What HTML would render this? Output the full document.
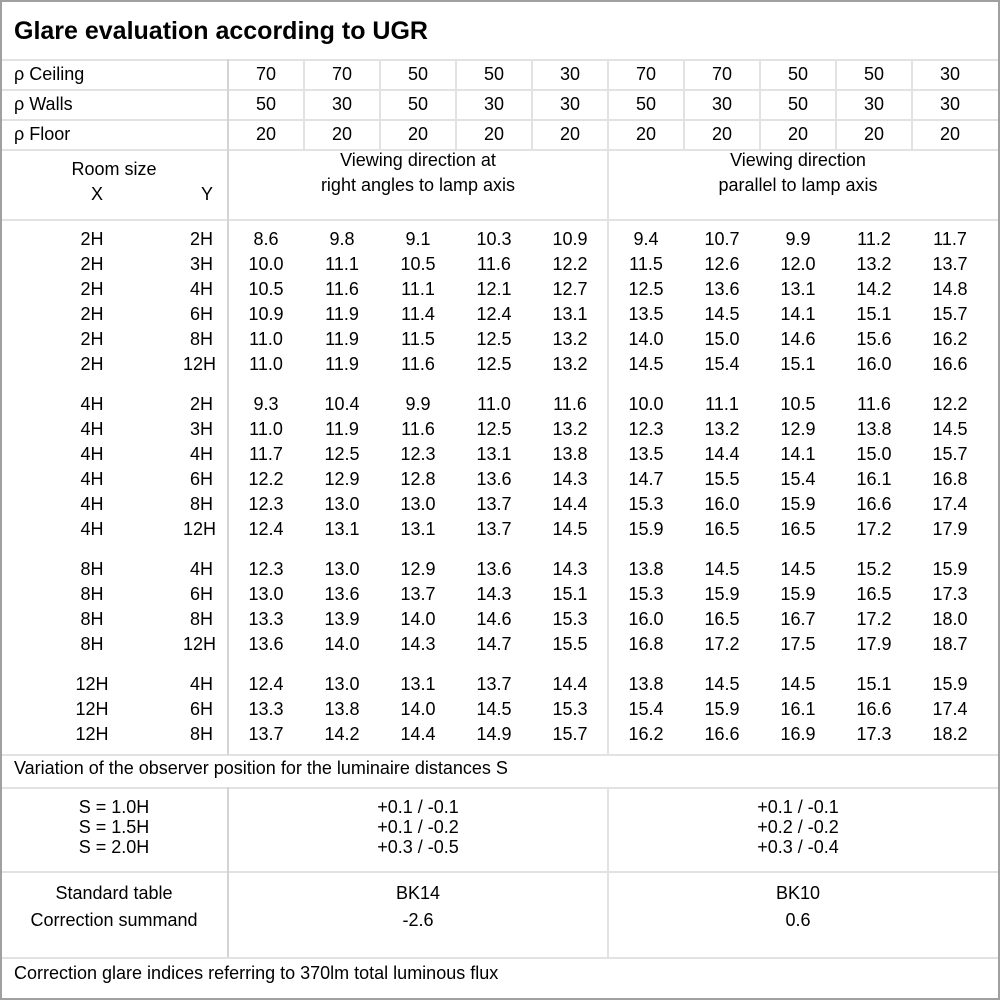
<!DOCTYPE html>
<html><head><meta charset="utf-8"><style>
body{margin:0;width:1000px;height:1000px;background:#fff;position:relative;overflow:hidden;font-family:"Liberation Sans","DejaVu Sans",sans-serif;font-size:18px;color:#000}
.b{position:absolute;left:0;top:0;width:996px;height:996px;border:2px solid #a0a0a0}
.h{position:absolute;left:2px;width:996px;height:2px;background:#e2e2e2}
.v{position:absolute;width:2px;background:#e2e2e2}
.t{position:absolute;white-space:nowrap;line-height:20px}
.row{position:absolute;left:0;width:1000px;height:25px;line-height:25px;display:flex}
.row span{display:block;text-align:center}
.row .x{width:184px;text-align:center}.row .y{width:30px;text-align:right;margin-left:-1px;margin-right:15px}
.row .s{width:228px}
.row .n{width:76px}
</style></head><body>
<div class="b"></div>
<div class="t" style="left:14px;top:17px;font-size:25px;font-weight:bold;line-height:28px">Glare evaluation according to UGR</div>
<div class="h" style="top:59px"></div><div class="h" style="top:89px"></div><div class="h" style="top:119px"></div><div class="h" style="top:149px"></div><div class="h" style="top:219px"></div>
<div class="h" style="top:754px"></div><div class="h" style="top:787px"></div><div class="h" style="top:871px"></div><div class="h" style="top:957px"></div>
<div class="v" style="left:227px;top:59px;height:696px;background:#d4d4d4"></div>
<div class="v" style="left:227px;top:787px;height:170px;background:#d4d4d4"></div>
<div class="v" style="left:607px;top:149px;height:606px"></div>
<div class="v" style="left:607px;top:787px;height:170px"></div>
<div class="v" style="left:303px;top:59px;height:90px"></div><div class="v" style="left:379px;top:59px;height:90px"></div><div class="v" style="left:455px;top:59px;height:90px"></div><div class="v" style="left:531px;top:59px;height:90px"></div><div class="v" style="left:607px;top:59px;height:90px"></div><div class="v" style="left:683px;top:59px;height:90px"></div><div class="v" style="left:759px;top:59px;height:90px"></div><div class="v" style="left:835px;top:59px;height:90px"></div><div class="v" style="left:911px;top:59px;height:90px"></div>
<div class="t" style="left:14px;top:64px">ρ Ceiling</div>
<div class="t" style="left:14px;top:94px">ρ Walls</div>
<div class="t" style="left:14px;top:124px">ρ Floor</div>
<div class="row" style="top:62px"><span class="s"></span><span class="n">70</span><span class="n">70</span><span class="n">50</span><span class="n">50</span><span class="n">30</span><span class="n">70</span><span class="n">70</span><span class="n">50</span><span class="n">50</span><span class="n">30</span></div>
<div class="row" style="top:92px"><span class="s"></span><span class="n">50</span><span class="n">30</span><span class="n">50</span><span class="n">30</span><span class="n">30</span><span class="n">50</span><span class="n">30</span><span class="n">50</span><span class="n">30</span><span class="n">30</span></div>
<div class="row" style="top:122px"><span class="s"></span><span class="n">20</span><span class="n">20</span><span class="n">20</span><span class="n">20</span><span class="n">20</span><span class="n">20</span><span class="n">20</span><span class="n">20</span><span class="n">20</span><span class="n">20</span></div>
<div class="t" style="left:0;width:228px;text-align:center;top:159px">Room size</div>
<div class="t" style="left:91px;top:184px">X</div><div class="t" style="left:201px;top:184px">Y</div>
<div class="t" style="left:228px;width:380px;text-align:center;top:148px;line-height:25px">Viewing direction at<br>right angles to lamp axis</div>
<div class="t" style="left:608px;width:380px;text-align:center;top:148px;line-height:25px">Viewing direction<br>parallel to lamp axis</div>
<div class="row" style="top:227px"><span class="x">2H</span><span class="y">2H</span><span class="n">8.6</span><span class="n">9.8</span><span class="n">9.1</span><span class="n">10.3</span><span class="n">10.9</span><span class="n">9.4</span><span class="n">10.7</span><span class="n">9.9</span><span class="n">11.2</span><span class="n">11.7</span></div>
<div class="row" style="top:252px"><span class="x">2H</span><span class="y">3H</span><span class="n">10.0</span><span class="n">11.1</span><span class="n">10.5</span><span class="n">11.6</span><span class="n">12.2</span><span class="n">11.5</span><span class="n">12.6</span><span class="n">12.0</span><span class="n">13.2</span><span class="n">13.7</span></div>
<div class="row" style="top:277px"><span class="x">2H</span><span class="y">4H</span><span class="n">10.5</span><span class="n">11.6</span><span class="n">11.1</span><span class="n">12.1</span><span class="n">12.7</span><span class="n">12.5</span><span class="n">13.6</span><span class="n">13.1</span><span class="n">14.2</span><span class="n">14.8</span></div>
<div class="row" style="top:302px"><span class="x">2H</span><span class="y">6H</span><span class="n">10.9</span><span class="n">11.9</span><span class="n">11.4</span><span class="n">12.4</span><span class="n">13.1</span><span class="n">13.5</span><span class="n">14.5</span><span class="n">14.1</span><span class="n">15.1</span><span class="n">15.7</span></div>
<div class="row" style="top:327px"><span class="x">2H</span><span class="y">8H</span><span class="n">11.0</span><span class="n">11.9</span><span class="n">11.5</span><span class="n">12.5</span><span class="n">13.2</span><span class="n">14.0</span><span class="n">15.0</span><span class="n">14.6</span><span class="n">15.6</span><span class="n">16.2</span></div>
<div class="row" style="top:352px"><span class="x">2H</span><span class="y">12H</span><span class="n">11.0</span><span class="n">11.9</span><span class="n">11.6</span><span class="n">12.5</span><span class="n">13.2</span><span class="n">14.5</span><span class="n">15.4</span><span class="n">15.1</span><span class="n">16.0</span><span class="n">16.6</span></div>
<div class="row" style="top:392px"><span class="x">4H</span><span class="y">2H</span><span class="n">9.3</span><span class="n">10.4</span><span class="n">9.9</span><span class="n">11.0</span><span class="n">11.6</span><span class="n">10.0</span><span class="n">11.1</span><span class="n">10.5</span><span class="n">11.6</span><span class="n">12.2</span></div>
<div class="row" style="top:417px"><span class="x">4H</span><span class="y">3H</span><span class="n">11.0</span><span class="n">11.9</span><span class="n">11.6</span><span class="n">12.5</span><span class="n">13.2</span><span class="n">12.3</span><span class="n">13.2</span><span class="n">12.9</span><span class="n">13.8</span><span class="n">14.5</span></div>
<div class="row" style="top:442px"><span class="x">4H</span><span class="y">4H</span><span class="n">11.7</span><span class="n">12.5</span><span class="n">12.3</span><span class="n">13.1</span><span class="n">13.8</span><span class="n">13.5</span><span class="n">14.4</span><span class="n">14.1</span><span class="n">15.0</span><span class="n">15.7</span></div>
<div class="row" style="top:467px"><span class="x">4H</span><span class="y">6H</span><span class="n">12.2</span><span class="n">12.9</span><span class="n">12.8</span><span class="n">13.6</span><span class="n">14.3</span><span class="n">14.7</span><span class="n">15.5</span><span class="n">15.4</span><span class="n">16.1</span><span class="n">16.8</span></div>
<div class="row" style="top:492px"><span class="x">4H</span><span class="y">8H</span><span class="n">12.3</span><span class="n">13.0</span><span class="n">13.0</span><span class="n">13.7</span><span class="n">14.4</span><span class="n">15.3</span><span class="n">16.0</span><span class="n">15.9</span><span class="n">16.6</span><span class="n">17.4</span></div>
<div class="row" style="top:517px"><span class="x">4H</span><span class="y">12H</span><span class="n">12.4</span><span class="n">13.1</span><span class="n">13.1</span><span class="n">13.7</span><span class="n">14.5</span><span class="n">15.9</span><span class="n">16.5</span><span class="n">16.5</span><span class="n">17.2</span><span class="n">17.9</span></div>
<div class="row" style="top:557px"><span class="x">8H</span><span class="y">4H</span><span class="n">12.3</span><span class="n">13.0</span><span class="n">12.9</span><span class="n">13.6</span><span class="n">14.3</span><span class="n">13.8</span><span class="n">14.5</span><span class="n">14.5</span><span class="n">15.2</span><span class="n">15.9</span></div>
<div class="row" style="top:582px"><span class="x">8H</span><span class="y">6H</span><span class="n">13.0</span><span class="n">13.6</span><span class="n">13.7</span><span class="n">14.3</span><span class="n">15.1</span><span class="n">15.3</span><span class="n">15.9</span><span class="n">15.9</span><span class="n">16.5</span><span class="n">17.3</span></div>
<div class="row" style="top:607px"><span class="x">8H</span><span class="y">8H</span><span class="n">13.3</span><span class="n">13.9</span><span class="n">14.0</span><span class="n">14.6</span><span class="n">15.3</span><span class="n">16.0</span><span class="n">16.5</span><span class="n">16.7</span><span class="n">17.2</span><span class="n">18.0</span></div>
<div class="row" style="top:632px"><span class="x">8H</span><span class="y">12H</span><span class="n">13.6</span><span class="n">14.0</span><span class="n">14.3</span><span class="n">14.7</span><span class="n">15.5</span><span class="n">16.8</span><span class="n">17.2</span><span class="n">17.5</span><span class="n">17.9</span><span class="n">18.7</span></div>
<div class="row" style="top:672px"><span class="x">12H</span><span class="y">4H</span><span class="n">12.4</span><span class="n">13.0</span><span class="n">13.1</span><span class="n">13.7</span><span class="n">14.4</span><span class="n">13.8</span><span class="n">14.5</span><span class="n">14.5</span><span class="n">15.1</span><span class="n">15.9</span></div>
<div class="row" style="top:697px"><span class="x">12H</span><span class="y">6H</span><span class="n">13.3</span><span class="n">13.8</span><span class="n">14.0</span><span class="n">14.5</span><span class="n">15.3</span><span class="n">15.4</span><span class="n">15.9</span><span class="n">16.1</span><span class="n">16.6</span><span class="n">17.4</span></div>
<div class="row" style="top:722px"><span class="x">12H</span><span class="y">8H</span><span class="n">13.7</span><span class="n">14.2</span><span class="n">14.4</span><span class="n">14.9</span><span class="n">15.7</span><span class="n">16.2</span><span class="n">16.6</span><span class="n">16.9</span><span class="n">17.3</span><span class="n">18.2</span></div>
<div class="t" style="left:14px;top:758px">Variation of the observer position for the luminaire distances S</div>
<div class="t" style="left:0;width:228px;text-align:center;top:797px;line-height:20px">S = 1.0H<br>S = 1.5H<br>S = 2.0H</div>
<div class="t" style="left:228px;width:380px;text-align:center;top:797px;line-height:20px">+0.1 / -0.1<br>+0.1 / -0.2<br>+0.3 / -0.5</div>
<div class="t" style="left:608px;width:380px;text-align:center;top:797px;line-height:20px">+0.1 / -0.1<br>+0.2 / -0.2<br>+0.3 / -0.4</div>
<div class="t" style="left:0;width:228px;text-align:center;top:880px;line-height:27px">Standard table<br>Correction summand</div>
<div class="t" style="left:228px;width:380px;text-align:center;top:880px;line-height:27px">BK14<br>-2.6</div>
<div class="t" style="left:608px;width:380px;text-align:center;top:880px;line-height:27px">BK10<br>0.6</div>
<div class="t" style="left:14px;top:963px">Correction glare indices referring to 370lm total luminous flux</div>
</body></html>
